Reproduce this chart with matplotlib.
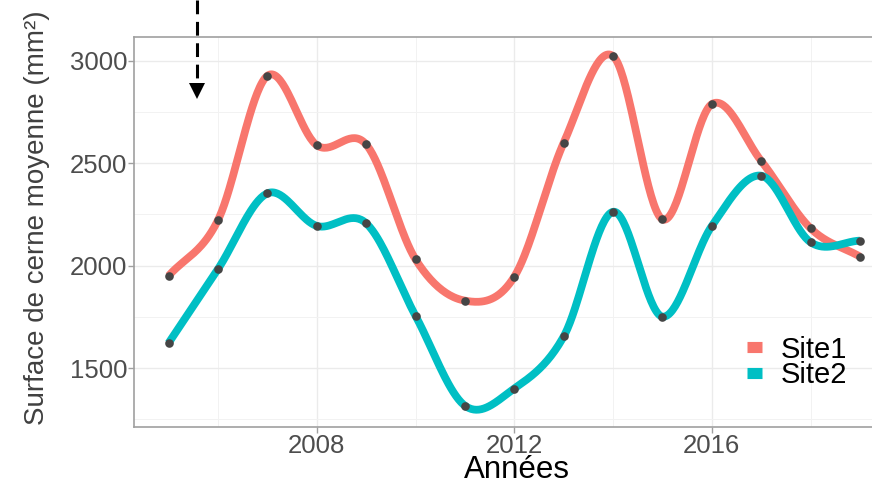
import numpy as np
import matplotlib
matplotlib.use("Agg")
import matplotlib.pyplot as plt
from matplotlib.lines import Line2D

# données
annees = [2005, 2006, 2007, 2008, 2009, 2010, 2011, 2012,
          2013, 2014, 2015, 2016, 2017, 2018, 2019]
site1 = [1950, 2222, 2927, 2588, 2592, 2031, 1829, 1946,
         2600, 3023, 2226, 2789, 2511, 2182, 2044]
site2 = [1622, 1983, 2353, 2194, 2207, 1755, 1316, 1400,
         1654, 2263, 1751, 2194, 2439, 2114, 2122]
noms = ["Site1", "Site2"]
couleurs = ["#F8766D", "#00BFC4"]

plt.rcParams["font.family"] = ["Liberation Sans", "DejaVu Sans"]


def lissage(x, y, n=40):
    # courbe de Hermite (Catmull-Rom) passant par tous les points
    x = np.asarray(x, float)
    y = np.asarray(y, float)
    m = np.gradient(y, x)
    m[0] = (y[1] - y[0]) / (x[1] - x[0])
    m[-1] = (y[-1] - y[-2]) / (x[-1] - x[-2])
    xs_tot, ys_tot = [], []
    for i in range(len(x) - 1):
        h = x[i + 1] - x[i]
        t = np.linspace(0, 1, n)
        h00 = 2 * t ** 3 - 3 * t ** 2 + 1
        h10 = t ** 3 - 2 * t ** 2 + t
        h01 = -2 * t ** 3 + 3 * t ** 2
        h11 = t ** 3 - t ** 2
        ys = h00 * y[i] + h10 * h * m[i] + h01 * y[i + 1] + h11 * h * m[i + 1]
        xs_tot.append(x[i] + t * h)
        ys_tot.append(ys)
    return np.concatenate(xs_tot), np.concatenate(ys_tot)


W, H = 872, 484
fig = plt.figure(figsize=(W / 100, H / 100), dpi=100)
# le panneau dépasse à droite (image recadrée)
ax = fig.add_axes([134 / W, 57 / H, (894.6 - 134) / W, (427 - 37.3) / H])

for vals, c in zip([site1, site2], couleurs):
    xs, ys = lissage(annees, vals)
    ax.plot(xs, ys, color=c, lw=5.6, solid_capstyle="butt", zorder=3)
for vals in [site1, site2]:
    ax.plot(annees, vals, "o", color="#454545", ms=6.2, mew=0, zorder=4)

ax.set_xlim(2004.3, 2019.7)
ax.set_ylim(1212, 3115)
ax.set_xticks([2008, 2012, 2016])
ax.set_xticks([2006, 2010, 2014, 2018], minor=True)
ax.set_yticks([1500, 2000, 2500, 3000])
ax.set_yticks([1250, 1750, 2250, 2750], minor=True)
ax.grid(which="major", color="#ebebeb", lw=1.0, zorder=0)
ax.grid(which="minor", color="#f2f2f2", lw=0.7, zorder=0)
ax.set_axisbelow(True)
for s in ax.spines.values():
    s.set_color("#a0a0a0")
    s.set_linewidth(1.2)
ax.tick_params(which="major", length=4, width=1, color="#a0a0a0",
               labelsize=18.5, labelcolor="#4d4d4d", pad=1)
ax.tick_params(which="minor", length=0)

fig.text(517 / W, 6.5 / H, "Années", fontsize=22.5, color="black",
         ha="center", va="baseline")
fig.text(37 / W, 1 - 217.5 / H, "Surface de cerne moyenne (mm²)", fontsize=20,
         color="#404040", rotation=90, ha="center", va="center")

poignees = [Line2D([], [], color=c, lw=8, solid_capstyle="butt") for c in couleurs]
ax.legend(poignees, noms, loc="center left", frameon=False, fontsize=21,
          bbox_to_anchor=(747 / W, 1 - 362.5 / H), bbox_transform=fig.transFigure,
          handlelength=0.5, handletextpad=0.65, labelspacing=-0.08,
          borderpad=0, borderaxespad=0)

# flèche pointillée en haut à gauche
fig.add_artist(Line2D([197 / W, 197 / W], [1.0, 1 - 78 / H], color="black",
                      lw=2.2, linestyle=(0, (4.5, 2.5))))
fig.add_artist(Line2D([197 / W], [1 - 91 / H], marker="v", color="black",
                      ms=11, mew=0))

fig.savefig("out.png", dpi=100)
